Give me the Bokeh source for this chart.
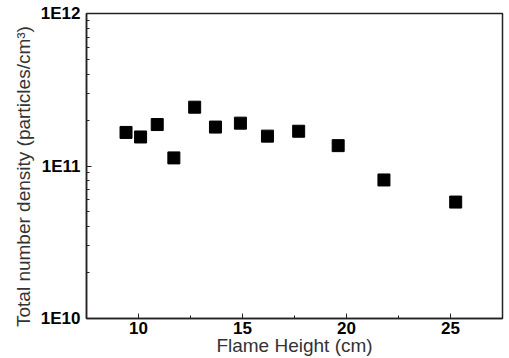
from bokeh.plotting import figure
from bokeh.models import FixedTicker, Range1d, ColumnDataSource
from bokeh.embed import file_html
from bokeh.resources import INLINE

flame_height = [9.4, 10.1, 10.9, 11.7, 12.7, 13.7, 14.9, 16.2, 17.7, 19.6, 21.8, 25.25]
number_density = [1.66e11, 1.55e11, 1.87e11, 1.13e11, 2.43e11, 1.80e11, 1.91e11,
                  1.57e11, 1.69e11, 1.36e11, 8.1e10, 5.8e10]
x_ticks = [10, 15, 20, 25]
x_minor = [12.5, 17.5, 22.5]
y_ticks = [1e10, 1e11, 1e12]
y_labels = {1e10: "1E10", 1e11: "1E11", 1e12: "1E12"}
x_title = "Flame Height (cm)"
y_title = "Total number density (particles/cm\u00b3)"

src = ColumnDataSource(dict(x=flame_height, y=number_density))

p = figure(width=509, height=358, y_axis_type="log", output_backend="svg",
           toolbar_location=None, x_range=Range1d(7.5, 27.5), y_range=Range1d(1e10, 1e12),
           min_border_left=86, min_border_top=13, min_border_right=7, min_border_bottom=39)
p.grid.visible = False
p.outline_line_color = "#222222"
p.outline_line_width = 1.5
p.background_fill_color = "white"
p.border_fill_color = "white"

p.scatter("x", "y", source=src, marker="square", size=12, color="black")

font = "Liberation Sans"
p.xaxis.ticker = FixedTicker(ticks=x_ticks, minor_ticks=x_minor)
minor_y = [m * d for d in (1e10, 1e11) for m in range(2, 10)]
p.yaxis.ticker = FixedTicker(ticks=y_ticks, minor_ticks=minor_y)
p.yaxis.major_label_overrides = {float(k): v for k, v in y_labels.items()}

for ax in (p.xaxis[0], p.yaxis[0]):
    ax.axis_line_color = "#222222"
    ax.axis_line_width = 1.5
    ax.major_tick_in = 5
    ax.major_tick_out = 0
    ax.minor_tick_in = 3
    ax.minor_tick_out = 0
    ax.major_tick_line_color = "#222222"
    ax.minor_tick_line_color = "#222222"
    ax.major_label_text_font = font
    ax.major_label_text_font_style = "bold"
    ax.major_label_text_font_size = "17px"
    ax.major_label_text_color = "black"
    ax.axis_label_text_font = font
    ax.axis_label_text_font_style = "normal"
    ax.axis_label_text_font_size = "19px"
    ax.axis_label_text_color = "#333333"

p.xaxis.axis_label = x_title
p.yaxis.axis_label = y_title + "\u00a0" * 4
p.xaxis.major_label_standoff = 3
p.xaxis.axis_label_standoff = -2
p.yaxis.major_label_standoff = 6
p.yaxis.axis_label_standoff = 4

open("out.html", "w").write(file_html(p, INLINE))
